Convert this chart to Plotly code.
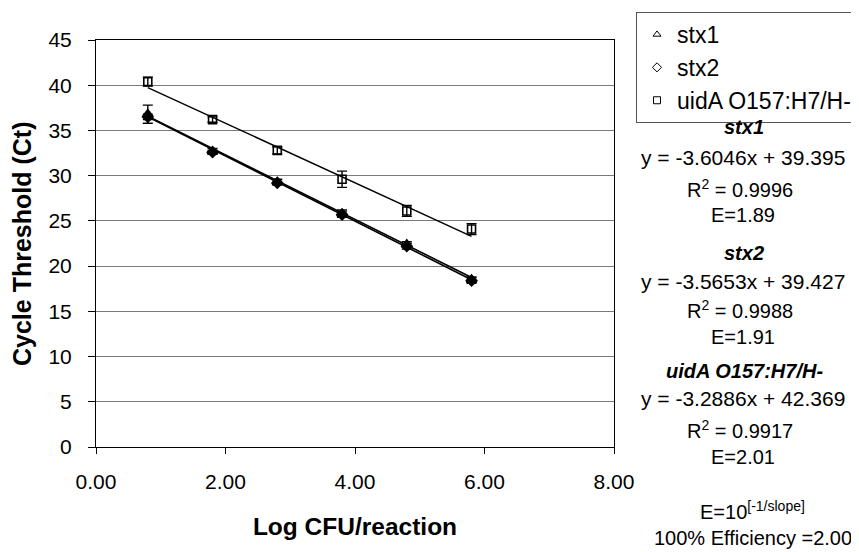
import plotly.graph_objects as go

# ---- data ----
log_cfu = [0.8, 1.8, 2.8, 3.8, 4.8, 5.8]
stx1_ct = [36.8, 32.7, 29.3, 25.8, 22.4, 18.5]
stx1_err = [1.0, 0.3, 0.3, 0.4, 0.3, 0.3]
stx2_ct = [36.5, 32.6, 29.2, 25.7, 22.2, 18.4]
stx2_err = [0.3, 0.2, 0.2, 0.3, 0.3, 0.3]
uida_ct = [40.4, 36.2, 32.8, 29.6, 26.1, 24.1]
uida_err = [0.5, 0.3, 0.4, 0.9, 0.6, 0.6]

series_names = ["stx1", "stx2", "uidA O157:H7/H-"]
slopes = [-3.6046, -3.5653, -3.2886]
intercepts = [39.395, 39.427, 42.369]
r2_values = ["0.9996", "0.9988", "0.9917"]
efficiencies = ["1.89", "1.91", "2.01"]

x_ticks = [0, 2, 4, 6, 8]
y_ticks = [0, 5, 10, 15, 20, 25, 30, 35, 40, 45]

FONT = "Arial, Liberation Sans, sans-serif"

fig = go.Figure()

# trendlines
x_fit = [log_cfu[0], log_cfu[-1]]
for s, b, w in zip(slopes, intercepts, [1.6, 1.6, 1.4]):
    fig.add_trace(go.Scatter(x=x_fit, y=[s * v + b for v in x_fit], mode="lines",
                             line=dict(color="black", width=w), showlegend=False,
                             hoverinfo="skip"))

# data with error bars
specs = [
    (stx1_ct, stx1_err, "triangle-up", 9),
    (stx2_ct, stx2_err, "diamond", 8),
    (uida_ct, uida_err, "square-open", 8),
]
for (ys, es, sym, sz), name in zip(specs, series_names):
    fig.add_trace(go.Scatter(
        x=log_cfu, y=ys, mode="markers", name=name, showlegend=False,
        marker=dict(symbol=sym, size=sz, color="black", line=dict(color="black", width=1.6)),
        error_y=dict(type="data", array=es, visible=True, color="black", thickness=1.4, width=5),
    ))

# legend entries (open markers as in the legend)
for name, sym in zip(series_names, ["triangle-up-open", "diamond-open", "square-open"]):
    fig.add_trace(go.Scatter(x=[None], y=[None], mode="markers", name=name,
                             marker=dict(symbol=sym, size=7, color="black",
                                         line=dict(color="black", width=1))))

# page has an 8px body margin; screen pixel coords are converted to figure coords
OFF = 8
W, H = 859 - OFF, 552 - OFF
L, R, T, B = 96 - OFF, 614 - OFF, 40 - OFF, 447 - OFF
def px(x):
    return (x - OFF - L) / (R - L)
def py(y):
    return (B - (y - OFF)) / (B - T)

lines = []
for name, s, b, r2, e, ys in zip(series_names, slopes, intercepts, r2_values, efficiencies,
                                  [(127, 157, 188, 215), (253, 281, 309, 337), (371, 398, 429, 457)]):
    lines.append((f"<b><i>{name}</i></b>", ys[0], 744, 20))
    lines.append((f"y = {s}x + {b}", ys[1], 743, 21))
    lines.append((f"R<sup>2</sup> = {r2}", ys[2], 740, 20))
    lines.append((f"E={e}", ys[3], 743, 20))
lines.append(("E=10<sup>[-1/slope]</sup>", 510, 752, 20))
lines.append(("100% Efficiency =2.00", 538, 753, 20))

annotations = []
for txt, yy, xx, fs in lines:
    annotations.append(dict(text=txt, x=px(xx), y=py(yy), xref="paper", yref="paper",
                            xanchor="center", yanchor="middle", showarrow=False,
                            font=dict(family=FONT, size=fs, color="black")))

# y axis title
annotations.append(dict(text="<b>Cycle Threshold (Ct)</b>", textangle=-90,
                        x=px(22), y=py(244), xref="paper", yref="paper",
                        xanchor="center", yanchor="middle", showarrow=False,
                        font=dict(family=FONT, size=25, color="black")))

fig.update_layout(
    width=W, height=H,
    margin=dict(l=L, r=W - R, t=T, b=H - B, autoexpand=False),
    paper_bgcolor="white", plot_bgcolor="white",
    font=dict(family=FONT, color="black"),
    showlegend=True,
    legend=dict(x=px(636), y=py(12), xanchor="left", yanchor="top",
                bordercolor="#555555", borderwidth=1, bgcolor="white",
                font=dict(family=FONT, size=23, color="black"),
                tracegroupgap=0, itemwidth=30),
    annotations=annotations,
)

fig.update_xaxes(
    range=[0, 8], tickvals=x_ticks, tickformat=".2f",
    showgrid=False, zeroline=False,
    showline=True, linecolor="black", linewidth=1, mirror=True,
    ticks="outside", ticklen=6, tickcolor="black",
    tickfont=dict(family=FONT, size=21, color="black"),
    ticklabelstandoff=10,
    title=dict(text="<b>Log CFU/reaction</b>", font=dict(family=FONT, size=24.5, color="black"),
               standoff=25),
)
fig.update_yaxes(
    range=[0, 45], tickvals=y_ticks,
    showgrid=True, gridcolor="#7a7a7a", gridwidth=1, zeroline=False,
    showline=True, linecolor="black", linewidth=1, mirror=True,
    ticks="outside", ticklen=7, tickcolor="black",
    tickfont=dict(family=FONT, size=21, color="black"),
    ticklabelstandoff=12,
)

fig.write_html("out.html")
